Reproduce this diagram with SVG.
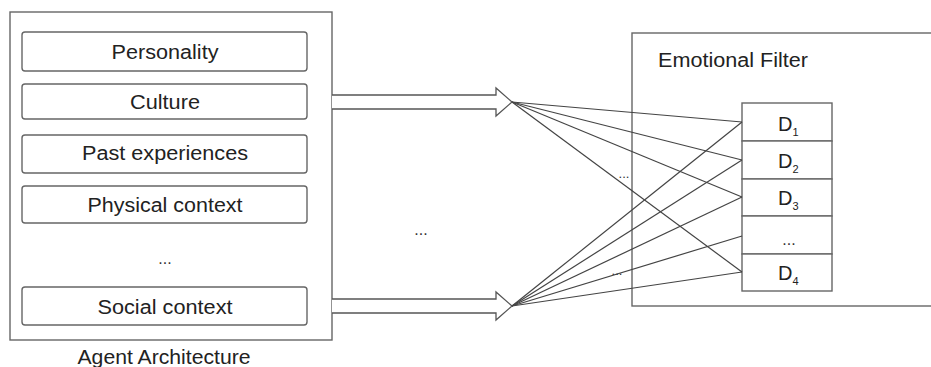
<svg xmlns="http://www.w3.org/2000/svg" width="931" height="367" viewBox="0 0 931 367">
<style>
.box{fill:#fff;stroke:#666;stroke-width:1.4}
.ib{fill:#fff;stroke:#666;stroke-width:1.4}
.t{font-family:"Liberation Sans",Arial,sans-serif;font-size:20px;fill:#222;text-anchor:middle}
.tl{font-family:"Liberation Sans",Arial,sans-serif;font-size:20px;fill:#222}
.d{font-family:"Liberation Sans",Arial,sans-serif;font-size:20px;fill:#222}
.sub{font-size:11px}
.dots{font-family:"Liberation Sans",Arial,sans-serif;font-size:16px;fill:#333;text-anchor:middle}
.sm{font-family:"Liberation Sans",Arial,sans-serif;font-size:13px;fill:#333;text-anchor:middle}
.arr{fill:#fff;stroke:#555;stroke-width:1.3}
.ln{stroke:#444;stroke-width:1.2;fill:none}
</style>
<rect width="931" height="367" fill="#fff"/>
<g id="agent-architecture">
<rect class="box" x="10" y="12" width="322" height="328"/>
<text class="t" x="164" y="364" textLength="173" lengthAdjust="spacingAndGlyphs">Agent Architecture</text>
</g>
<g id="personality"><rect class="ib" x="22" y="32" width="285" height="39" rx="3"/><text class="t" x="165" y="59" textLength="107" lengthAdjust="spacingAndGlyphs">Personality</text></g>
<g id="culture"><rect class="ib" x="22" y="84" width="285" height="35" rx="3"/><text class="t" x="165" y="109" textLength="70" lengthAdjust="spacingAndGlyphs">Culture</text></g>
<g id="past-experiences"><rect class="ib" x="22" y="135" width="285" height="38" rx="3"/><text class="t" x="165" y="160" textLength="166" lengthAdjust="spacingAndGlyphs">Past experiences</text></g>
<g id="physical-context"><rect class="ib" x="22" y="186" width="285" height="37" rx="3"/><text class="t" x="165" y="212" textLength="155" lengthAdjust="spacingAndGlyphs">Physical context</text></g>
<g id="agent-dots"><text class="dots" x="165" y="264">...</text></g>
<g id="social-context"><rect class="ib" x="22" y="287" width="285" height="38" rx="3"/><text class="t" x="165" y="314" textLength="135" lengthAdjust="spacingAndGlyphs">Social context</text></g>

<g id="emotional-filter">
<rect class="box" x="632" y="33" width="320" height="273"/>
<text class="tl" x="658" y="67" textLength="150" lengthAdjust="spacingAndGlyphs">Emotional Filter</text>
</g>
<g id="d1"><rect class="ib" x="742" y="103" width="90" height="38"/><text class="d" x="778" y="131">D<tspan class="sub" dy="5">1</tspan></text></g>
<g id="d2"><rect class="ib" x="742" y="141" width="90" height="38"/><text class="d" x="778" y="168">D<tspan class="sub" dy="5">2</tspan></text></g>
<g id="d3"><rect class="ib" x="742" y="179" width="90" height="37"/><text class="d" x="778" y="205">D<tspan class="sub" dy="5">3</tspan></text></g>
<g id="d-dots"><rect class="ib" x="742" y="216" width="90" height="38"/><text class="dots" x="789" y="245">...</text></g>
<g id="d4"><rect class="ib" x="742" y="254" width="90" height="37"/><text class="d" x="778" y="280">D<tspan class="sub" dy="5">4</tspan></text></g>

<g id="connectors">
<polyline class="arr" points="332,95 496,95 496,88 512,102 496,116 496,109 332,109"/>
<polyline class="arr" points="332,299 496,299 496,292 512,306 496,320 496,313 332,313"/>
<line class="ln" x1="512" y1="102" x2="742" y2="122"/>
<line class="ln" x1="512" y1="102" x2="742" y2="160"/>
<line class="ln" x1="512" y1="102" x2="742" y2="197"/>
<line class="ln" x1="512" y1="102" x2="742" y2="272"/>
<line class="ln" x1="512" y1="306" x2="742" y2="122"/>
<line class="ln" x1="512" y1="306" x2="742" y2="160"/>
<line class="ln" x1="512" y1="306" x2="742" y2="197"/>
<line class="ln" x1="512" y1="306" x2="742" y2="236"/>
<line class="ln" x1="512" y1="306" x2="742" y2="272"/>
<text class="dots" x="421" y="235">...</text>
<text class="sm" x="624" y="178">...</text>
<text class="sm" x="617" y="275">...</text>
</g>
</svg>
